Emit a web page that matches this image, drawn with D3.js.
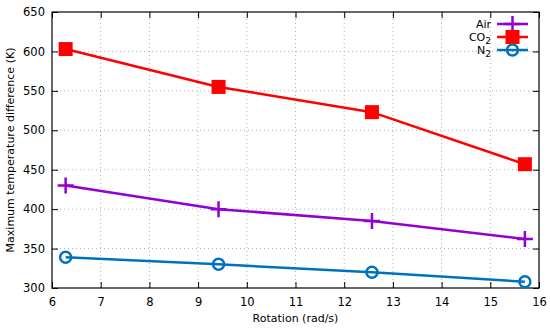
<!DOCTYPE html>
<html>
<head>
<meta charset="utf-8">
<script src="https://cdnjs.cloudflare.com/ajax/libs/d3/7.8.5/d3.min.js"></script>
<style>
  body { margin: 0; background: #fff; }
  text { font-family: "DejaVu Sans", sans-serif; }
</style>
</head>
<body>
<svg id="chart" width="550" height="333"></svg>
<script>
// rotation speeds (rad/s)
var rotation = [6.28, 9.42, 12.57, 15.71];
var airValues = [430, 400, 385, 362];
var co2Values = [603, 555, 523, 457];
var n2Values = [339, 330, 320, 308];
var xTicks = [6, 7, 8, 9, 10, 11, 12, 13, 14, 15, 16];
var yTicks = [300, 350, 400, 450, 500, 550, 600, 650];

var series = [
  { key: 'Air', values: airValues, color: '#9400d3', marker: 'plus' },
  { key: 'CO2', values: co2Values, color: '#ff0000', marker: 'square' },
  { key: 'N2', values: n2Values, color: '#0072bd', marker: 'circle' }
];

var margin = { left: 52, right: 11, top: 12, bottom: 45 };
var W = 550, H = 333;
var svg = d3.select('#chart');

var x = d3.scaleLinear().domain([6, 16]).range([margin.left, W - margin.right]);
var y = d3.scaleLinear().domain([300, 650]).range([H - margin.bottom, margin.top]);

// grid
var grid = svg.append('g').attr('class', 'grid')
  .attr('stroke', '#b0b0b0').attr('stroke-width', 1).attr('stroke-dasharray', '1,3');
xTicks.slice(1, -1).forEach(function(t) {
  grid.append('line').attr('x1', x(t)).attr('x2', x(t)).attr('y1', y(300)).attr('y2', y(650));
});
yTicks.slice(1, -1).forEach(function(t) {
  grid.append('line').attr('x1', x(6)).attr('x2', x(16)).attr('y1', y(t)).attr('y2', y(t));
});

// axes, ticks inward and mirrored
var TICK = 6;
svg.append('g').attr('transform', 'translate(0,' + y(300) + ')')
  .call(d3.axisBottom(x).tickValues(xTicks).tickSizeInner(-TICK).tickSizeOuter(0).tickPadding(10))
  .call(function(g) { g.select('.domain').remove(); });
svg.append('g').attr('transform', 'translate(0,' + y(650) + ')')
  .call(d3.axisTop(x).tickValues(xTicks).tickSizeInner(-TICK).tickSizeOuter(0).tickFormat(''))
  .call(function(g) { g.select('.domain').remove(); });
svg.append('g').attr('transform', 'translate(' + x(6) + ',0)')
  .call(d3.axisLeft(y).tickValues(yTicks).tickSizeInner(-TICK).tickSizeOuter(0).tickPadding(7))
  .call(function(g) { g.select('.domain').remove(); });
svg.append('g').attr('transform', 'translate(' + x(16) + ',0)')
  .call(d3.axisRight(y).tickValues(yTicks).tickSizeInner(-TICK).tickSizeOuter(0).tickFormat(''))
  .call(function(g) { g.select('.domain').remove(); });
svg.selectAll('.tick text').attr('font-size', 11.5).attr('fill', '#000');
svg.selectAll('.tick line').attr('stroke', '#000');

svg.append('rect')
  .attr('x', x(6)).attr('y', y(650))
  .attr('width', x(16) - x(6)).attr('height', y(300) - y(650))
  .attr('fill', 'none').attr('stroke', '#000').attr('stroke-width', 1.2);

function drawMarker(g, type, cx, cy, color) {
  if (type === 'plus') {
    g.append('path').attr('d', 'M' + (cx - 8) + ',' + cy + 'H' + (cx + 8) + 'M' + cx + ',' + (cy - 8) + 'V' + (cy + 8))
      .attr('stroke', color).attr('stroke-width', 2.5).attr('fill', 'none');
  } else if (type === 'square') {
    g.append('rect').attr('x', cx - 7).attr('y', cy - 7).attr('width', 14).attr('height', 14).attr('fill', color);
  } else {
    g.append('circle').attr('cx', cx).attr('cy', cy).attr('r', 5.5)
      .attr('stroke', color).attr('stroke-width', 2.5).attr('fill', 'none');
  }
}

var line = d3.line().x(function(d) { return x(d[0]); }).y(function(d) { return y(d[1]); });

series.forEach(function(s) {
  var pts = rotation.map(function(r, i) { return [r, s.values[i]]; });
  var g = svg.append('g');
  g.append('path').attr('d', line(pts)).attr('fill', 'none')
    .attr('stroke', s.color).attr('stroke-width', 2.5);
  pts.forEach(function(p) { drawMarker(g, s.marker, x(p[0]), y(p[1]), s.color); });
});

// legend
var legend = svg.append('g').attr('class', 'legend');
series.forEach(function(s, i) {
  var ly = 24 + i * 13;
  var row = legend.append('g');
  var t = row.append('text').attr('x', 491).attr('y', ly + 4).attr('text-anchor', 'end')
    .attr('font-size', 11).attr('fill', '#000');
  if (s.key === 'Air') {
    t.text('Air');
  } else {
    t.append('tspan').text(s.key.slice(0, -1));
    t.append('tspan').attr('font-size', 9).attr('dy', 3).text(s.key.slice(-1));
  }
  row.append('line').attr('x1', 497).attr('x2', 528).attr('y1', ly).attr('y2', ly)
    .attr('stroke', s.color).attr('stroke-width', 2.5);
  drawMarker(row, s.marker, 512.5, ly, s.color);
});

// axis titles
svg.append('text').attr('x', x(11)).attr('y', 322).attr('text-anchor', 'middle')
  .attr('font-size', 11).text('Rotation (rad/s)');
svg.append('text').attr('transform', 'translate(14,' + ((y(300) + y(650)) / 2) + ') rotate(-90)')
  .attr('text-anchor', 'middle').attr('font-size', 11).text('Maximum temperature difference (K)');
</script>
</body>
</html>
